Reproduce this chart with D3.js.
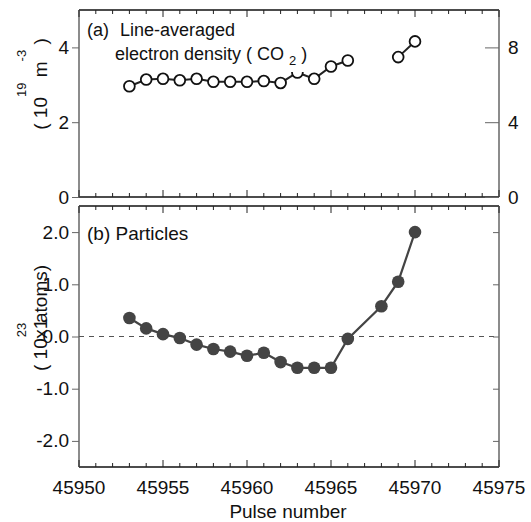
<!DOCTYPE html>
<html><head><meta charset="utf-8">
<script src="https://cdn.jsdelivr.net/npm/d3@7"></script>
<style>body{margin:0;background:#fff}svg{display:block}text{font-family:"Liberation Sans",Arial,sans-serif}</style>
</head><body><svg id="c" width="531" height="522"></svg>
<script>
const pulsesA = [45953,45954,45955,45956,45957,45958,45959,45960,45961,45962,45963,45964,45965,45966];
const densityA = [2.96,3.14,3.16,3.12,3.16,3.08,3.08,3.08,3.10,3.05,3.33,3.16,3.49,3.65];
const pulsesA2 = [45969,45970];
const densityA2 = [3.74,4.16];
const pulsesB = [45953,45954,45955,45956,45957,45958,45959,45960,45961,45962,45963,45964,45965,45966,45968,45969,45970];
const particlesB = [0.355,0.155,0.045,-0.03,-0.155,-0.24,-0.29,-0.37,-0.31,-0.49,-0.6,-0.6,-0.6,-0.045,0.58,1.05,2.0];
const xTicks = [45950,45955,45960,45965,45970,45975];
const leftTicksA = [0,2,4];
const rightTicksA = [0,4,8];
const ticksB = [-2.0,-1.0,0.0,1.0,2.0];

const svg = d3.select("#c");
const FS = 19;
const x = d3.scaleLinear().domain([45950,45975]).range([79,499]);
const yA = d3.scaleLinear().domain([0,5]).range([197,10]);
const yA2 = d3.scaleLinear().domain([0,10]).range([197,10]);
const yB = d3.scaleLinear().domain([-2.5,2.5]).range([467,206]);
const minor = d3.range(45950,45976,1);

function xTicksOn(y0, dir){
  svg.append("g").selectAll("line").data(minor).join("line")
    .attr("x1",d=>x(d)).attr("x2",d=>x(d))
    .attr("y1",y0).attr("y2",d=>y0+dir*(d%5===0?7:4))
    .attr("stroke","#222").attr("stroke-width",1);
}
function frame(yScale, col){
  const [b,t] = yScale.range();
  svg.append("line").attr("x1",79).attr("x2",499).attr("y1",t).attr("y2",t).attr("stroke","#111").attr("stroke-width",1.5);
  svg.append("line").attr("x1",79).attr("x2",499).attr("y1",b).attr("y2",b).attr("stroke","#111").attr("stroke-width",1.5);
  svg.append("line").attr("x1",79).attr("x2",79).attr("y1",t).attr("y2",b).attr("stroke",col).attr("stroke-width",1.5);
  svg.append("line").attr("x1",499).attr("x2",499).attr("y1",t).attr("y2",b).attr("stroke",col).attr("stroke-width",1.5);
  xTicksOn(t,1); xTicksOn(b,-1);
}

// Panel A
frame(yA,"#666");
const gL = svg.append("g").attr("transform","translate(79,0)")
  .call(d3.axisLeft(yA).tickValues(leftTicksA).tickFormat(d3.format("d")).tickSize(7).tickPadding(3));
const gR = svg.append("g").attr("transform","translate(499,0)")
  .call(d3.axisRight(yA2).tickValues(rightTicksA).tickFormat(d3.format("d")).tickSize(-14).tickPadding(9));
[gL,gR].forEach(g=>{g.select(".domain").remove();g.selectAll("line").attr("stroke","#666");g.selectAll("text").attr("font-size",FS).attr("fill","#111").attr("font-family","Liberation Sans, Arial");});

const lineA = d3.line().x(d=>x(d[0])).y(d=>yA(d[1]));
const dA = pulsesA.map((p,i)=>[p,densityA[i]]);
const dA2 = pulsesA2.map((p,i)=>[p,densityA2[i]]);
[dA,dA2].forEach(ds=>{
  svg.append("path").datum(ds).attr("d",lineA).attr("fill","none").attr("stroke","#222").attr("stroke-width",2);
  svg.append("g").selectAll("circle").data(ds).join("circle")
    .attr("cx",d=>x(d[0])).attr("cy",d=>yA(d[1])).attr("r",5.4)
    .attr("fill","#fff").attr("stroke","#111").attr("stroke-width",1.8);
});
// text boxes panel A
svg.append("rect").attr("x",112).attr("y",44).attr("width",196).attr("height",28).attr("fill","#fff");
svg.append("text").attr("x",87).attr("y",36).attr("font-size",18).attr("fill","#111").text("(a)");
svg.append("text").attr("x",120).attr("y",36).attr("font-size",18).attr("fill","#111").text("Line-averaged");
const t2 = svg.append("text").attr("x",115).attr("y",60).attr("font-size",18).attr("fill","#111");
t2.append("tspan").text("electron density ( CO ");
t2.append("tspan").attr("font-size",13).attr("dy",5).text("2");
t2.append("tspan").attr("dy",-5).text(" )");

// Y label A
const la = svg.append("text").attr("transform","translate(47,84) rotate(-90)").attr("text-anchor","middle").attr("font-size",FS).attr("fill","#111");
la.append("tspan").text("( 10");
la.append("tspan").attr("font-size",13).attr("dy",-21).text("19");
la.append("tspan").attr("dy",21).text("  m");
la.append("tspan").attr("font-size",13).attr("dy",-21).text("-3");
la.append("tspan").attr("dy",21).text("  )");

// Panel B
frame(yB,"#666");
svg.append("line").attr("x1",79).attr("x2",499).attr("y1",yB(0)).attr("y2",yB(0))
  .attr("stroke","#555").attr("stroke-width",1.2).attr("stroke-dasharray","5,5");
const gBL = svg.append("g").attr("transform","translate(79,0)")
  .call(d3.axisLeft(yB).tickValues(ticksB).tickFormat(d3.format(".1f")).tickSize(7).tickPadding(3));
const gBR = svg.append("g").attr("transform","translate(499,0)")
  .call(d3.axisRight(yB).tickValues(ticksB).tickFormat("").tickSize(-6));
[gBL,gBR].forEach(g=>{g.select(".domain").remove();g.selectAll("line").attr("stroke","#666");g.selectAll("text").attr("font-size",FS).attr("fill","#111").attr("font-family","Liberation Sans, Arial");});
gBL.selectAll("text").text(d=>d3.format(".1f")(d).replace("−","-"));

const dB = pulsesB.map((p,i)=>[p,particlesB[i]]);
svg.append("path").datum(dB).attr("d",d3.line().x(d=>x(d[0])).y(d=>yB(d[1])))
  .attr("fill","none").attr("stroke","#444").attr("stroke-width",2.2);
svg.append("g").selectAll("circle").data(dB).join("circle")
  .attr("cx",d=>x(d[0])).attr("cy",d=>yB(d[1])).attr("r",6.3).attr("fill","#444");

svg.append("text").attr("x",87).attr("y",240).attr("font-size",FS).attr("fill","#111").text("(b) Particles");

// Y label B (overlapping as in the original)
const lb = svg.append("text").attr("transform","translate(47,371) rotate(-90)").attr("font-size",FS).attr("fill","#111");
lb.append("tspan").text("( 10");
lb.append("tspan").attr("font-size",13).attr("dy",-21).attr("dx",1).text("23");
lb.append("tspan").attr("dy",21).attr("dx",-16).text("x1");
svg.append("text").attr("transform","translate(47,323) rotate(-90)").attr("font-size",FS).attr("fill","#111").text("atoms)");

// X axis labels
svg.append("g").selectAll("text").data(xTicks).join("text")
  .attr("x",d=>x(d)).attr("y",494).attr("text-anchor","middle").attr("font-size",FS).attr("fill","#111").text(d=>d);
svg.append("text").attr("x",288).attr("y",518).attr("text-anchor","middle").attr("font-size",FS).attr("fill","#111").text("Pulse number");
</script></body></html>
